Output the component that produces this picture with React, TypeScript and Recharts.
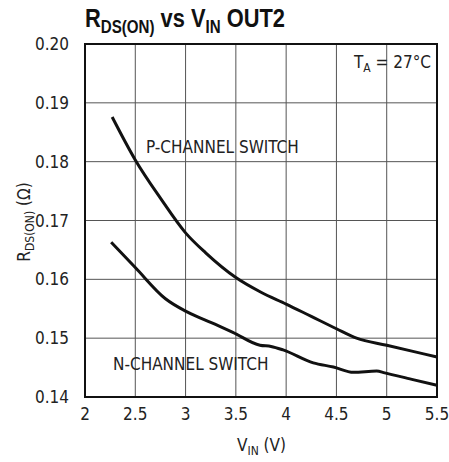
import { LineChart, Line, XAxis, YAxis, CartesianGrid, ReferenceArea } from 'recharts';

// R_DS(ON) vs V_IN (ohms)
const pChannel = [
  { v: 2.27, r: 0.1876 },
  { v: 2.5, r: 0.1803 },
  { v: 2.75, r: 0.1738 },
  { v: 3.0, r: 0.1679 },
  { v: 3.2, r: 0.1645 },
  { v: 3.5, r: 0.1603 },
  { v: 3.75, r: 0.1578 },
  { v: 4.0, r: 0.1558 },
  { v: 4.25, r: 0.1537 },
  { v: 4.5, r: 0.1516 },
  { v: 4.7, r: 0.1500 },
  { v: 5.0, r: 0.1488 },
  { v: 5.25, r: 0.1478 },
  { v: 5.5, r: 0.1468 },
];

const nChannel = [
  { v: 2.26, r: 0.1663 },
  { v: 2.5, r: 0.1620 },
  { v: 2.8, r: 0.1567 },
  { v: 3.0, r: 0.1546 },
  { v: 3.11, r: 0.1537 },
  { v: 3.25, r: 0.1527 },
  { v: 3.47, r: 0.1510 },
  { v: 3.74, r: 0.1488 },
  { v: 3.85, r: 0.1486 },
  { v: 3.97, r: 0.1480 },
  { v: 4.27, r: 0.1458 },
  { v: 4.47, r: 0.1451 },
  { v: 4.67, r: 0.1442 },
  { v: 4.9, r: 0.1444 },
  { v: 4.98, r: 0.1441 },
  { v: 5.25, r: 0.1430 },
  { v: 5.5, r: 0.1420 },
];

const xTicks = [2, 2.5, 3, 3.5, 4, 4.5, 5, 5.5];
const yTicks = [0.14, 0.15, 0.16, 0.17, 0.18, 0.19, 0.2];

const FONT = '"DejaVu Sans Condensed", "Liberation Sans", sans-serif';

const txt = (extra: React.CSSProperties): React.CSSProperties => ({
  position: 'absolute',
  fontFamily: FONT,
  color: '#222',
  whiteSpace: 'nowrap',
  lineHeight: 1,
  ...extra,
});

export default function App() {
  return (
    <div style={{ position: 'absolute', left: 0, top: 0, width: 449, height: 462, background: '#fff' }}>
      <LineChart
        width={449}
        height={462}
        margin={{ top: 44, right: 12, left: 0, bottom: 0 }}
      >
        <CartesianGrid stroke="#555" strokeWidth={1} horizontalValues={yTicks} verticalValues={xTicks} />
        <XAxis
          type="number"
          dataKey="v"
          domain={[2, 5.5]}
          ticks={xTicks}
          height={65}
          axisLine={false}
          tickLine={false}
          tickMargin={5}
          tick={{ fontFamily: FONT, fontSize: 17, fill: '#222' }}
          allowDuplicatedCategory={false}
        />
        <YAxis
          type="number"
          domain={[0.14, 0.2]}
          ticks={yTicks}
          width={85}
          axisLine={false}
          tickLine={false}
          tickMargin={10}
          tick={{ fontFamily: FONT, fontSize: 17, fill: '#222' }}
          tickFormatter={(t: number) => t.toFixed(2)}
        />
        <ReferenceArea x1={2} x2={5.5} y1={0.14} y2={0.2} fill="none" stroke="#111" strokeWidth={2} ifOverflow="visible" />
        <Line data={pChannel} dataKey="r" type="monotone" stroke="#111" strokeWidth={3} dot={false} isAnimationActive={false} />
        <Line data={nChannel} dataKey="r" type="monotone" stroke="#111" strokeWidth={3} dot={false} isAnimationActive={false} />
      </LineChart>

      <div
        style={txt({
          left: 85,
          top: 5,
          fontSize: 26,
          fontWeight: 'bold',
          color: '#111',
          fontFamily: '"Liberation Sans", sans-serif',
          transform: 'scaleX(0.84)',
          transformOrigin: 'left top',
        })}
      >
        R<sub style={{ fontSize: 18 }}>DS(ON)</sub> vs V<sub style={{ fontSize: 18 }}>IN</sub> OUT2
      </div>
      <div style={txt({ left: 354, top: 54, fontSize: 17 })}>
        T<sub style={{ fontSize: 12 }}>A</sub> = 27°C
      </div>
      <div style={txt({ left: 146, top: 139, fontSize: 17 })}>P-CHANNEL SWITCH</div>
      <div style={txt({ left: 113, top: 356, fontSize: 17 })}>N-CHANNEL SWITCH</div>
      <div style={txt({ left: 237, top: 437, fontSize: 17 })}>
        V<sub style={{ fontSize: 12 }}>IN</sub> (V)
      </div>
      <div
        style={txt({
          left: 26,
          top: 222,
          fontSize: 17,
          transform: 'translate(-50%, -50%) rotate(-90deg)',
        })}
      >
        R<sub style={{ fontSize: 12 }}>DS(ON)</sub> (Ω)
      </div>
    </div>
  );
}
